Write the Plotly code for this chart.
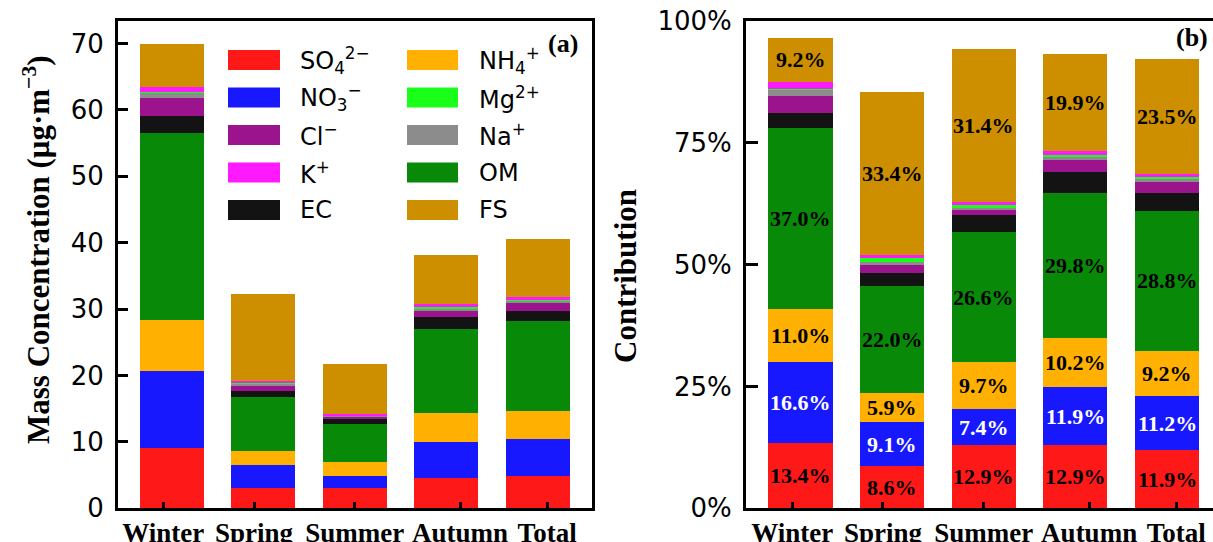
import plotly.graph_objects as go

W, H = 1213, 542

categories = ["Winter", "Spring", "Summer", "Autumn", "Total"]

# stacking order (bottom -> top)
species = ["SO4", "NO3", "NH4", "OM", "EC", "Cl", "Na", "Mg", "K", "FS"]
labels = {
    "SO4": "SO<sub>4</sub><sup>2−</sup>",
    "NO3": "NO<sub>3</sub><sup>−</sup>",
    "NH4": "NH<sub>4</sub><sup>+</sup>",
    "OM": "OM",
    "EC": "EC",
    "Cl": "Cl<sup>−</sup>",
    "Na": "Na<sup>+</sup>",
    "Mg": "Mg<sup>2+</sup>",
    "K": "K<sup>+</sup>",
    "FS": "FS",
}
colors = {
    "SO4": "#ff1818",
    "NO3": "#1818ff",
    "NH4": "#ffb000",
    "OM": "#088a08",
    "EC": "#131313",
    "Cl": "#9b148e",
    "Na": "#8c8c8c",
    "Mg": "#19ff19",
    "K": "#ff19ff",
    "FS": "#cd8f00",
}

# (a) mass concentration, ug/m3
mass_so4 = [9.1, 3.1, 3.0, 4.6, 4.9]
mass_no3 = [11.6, 3.4, 1.8, 5.45, 5.6]
mass_nh4 = [7.7, 2.1, 2.1, 4.25, 4.1]
mass_om = [28.1, 8.1, 5.8, 12.7, 13.6]
mass_ec = [2.55, 1.0, 0.8, 1.8, 1.5]
mass_cl = [2.7, 0.8, 0.3, 1.05, 1.25]
mass_na = [0.9, 0.3, 0.15, 0.3, 0.3]
mass_mg = [0.05, 0.2, 0.1, 0.1, 0.15]
mass_k = [0.8, 0.25, 0.15, 0.45, 0.5]
mass_fs = [6.4, 13.05, 7.6, 7.5, 8.6]

# (b) contribution, %
pct_so4 = [13.4, 8.6, 12.9, 12.9, 11.9]
pct_no3 = [16.6, 9.1, 7.4, 11.9, 11.2]
pct_nh4 = [11.0, 5.9, 9.7, 10.2, 9.2]
pct_om = [37.0, 22.0, 26.6, 29.8, 28.8]
pct_ec = [3.1, 2.7, 3.6, 4.3, 3.6]
pct_cl = [3.5, 1.7, 1.2, 2.4, 2.2]
pct_na = [1.4, 0.5, 0.4, 0.7, 0.7]
pct_mg = [0.1, 0.8, 0.4, 0.2, 0.3]
pct_k = [1.3, 0.7, 0.7, 0.9, 0.8]
pct_fs = [9.2, 33.4, 31.4, 19.9, 23.5]

mass = {"SO4": mass_so4, "NO3": mass_no3, "NH4": mass_nh4, "OM": mass_om, "EC": mass_ec,
        "Cl": mass_cl, "Na": mass_na, "Mg": mass_mg, "K": mass_k, "FS": mass_fs}
pct = {"SO4": pct_so4, "NO3": pct_no3, "NH4": pct_nh4, "OM": pct_om, "EC": pct_ec,
       "Cl": pct_cl, "Na": pct_na, "Mg": pct_mg, "K": pct_k, "FS": pct_fs}
labelled = {"SO4", "NO3", "NH4", "OM", "FS"}

legend_col1 = ["SO4", "NO3", "Cl", "K", "EC"]
legend_col2 = ["NH4", "Mg", "Na", "OM", "FS"]

y_ticks_a = [0, 10, 20, 30, 40, 50, 60, 70]
y_ticks_b = [0, 25, 50, 75, 100]

SERIF = "Liberation Serif"
SANS = "DejaVu Sans"

# bar slots along x (one per category); the reference's tick labels sit slightly off-centre
xpos = list(range(len(categories)))
tick_shift = [-0.09, -0.1, 0.0, 0.15, 0.1]
tick_pos = [p + s for p, s in zip(xpos, tick_shift)]

fig = go.Figure()
for sp in species:
    fig.add_trace(go.Bar(
        x=xpos, y=mass[sp], name=sp, marker=dict(color=colors[sp], line=dict(width=0)),
        width=0.7, xaxis="x", yaxis="y", showlegend=False,
        customdata=categories, hovertemplate="%{customdata}: %{y}<extra>" + sp + "</extra>",
    ))
for sp in species:
    fig.add_trace(go.Bar(
        x=xpos, y=pct[sp], name=sp, marker=dict(color=colors[sp], line=dict(width=0)),
        width=0.7, xaxis="x2", yaxis="y2", showlegend=False,
        customdata=categories, hovertemplate="%{customdata}: %{y}%<extra>" + sp + "</extra>",
    ))


def px(x):
    return x / W


def py(y):
    return 1 - y / H


ydom = [py(508.3), py(21)]
common_axis = dict(showline=True, linecolor="black", linewidth=3, showgrid=False,
                   zeroline=False, ticks="inside", tickcolor="black", automargin=False)
xtickfont = dict(family=SERIF, size=27, weight="bold", color="black")

fig.update_layout(
    width=W, height=H, barmode="stack",
    margin=dict(l=0, r=0, t=0, b=0),
    plot_bgcolor="white", paper_bgcolor="white",
    xaxis=dict(domain=[px(118), px(592)], range=[-0.585, 4.59], anchor="y", mirror=True,
               tickmode="array", tickvals=tick_pos, ticktext=categories,
               ticklen=6, tickwidth=2.5, tickangle=0, ticklabelstandoff=-2,
               tickfont=xtickfont, **common_axis),
    yaxis=dict(domain=ydom, range=[0, 73.4], anchor="x", mirror=True,
               tickmode="array", tickvals=y_ticks_a, ticktext=[str(v) for v in y_ticks_a],
               ticklen=10, tickwidth=2.5, ticklabelstandoff=6,
               tickfont=dict(family=SANS, size=26, color="black"),
               **common_axis),
    xaxis2=dict(domain=[px(746), 1.0], range=[-0.595, 4.502], anchor="y2", mirror=True,
                tickmode="array", tickvals=tick_pos, ticktext=categories,
                ticklen=6, tickwidth=2.5, tickangle=0, ticklabelstandoff=-2,
                tickfont=xtickfont, **common_axis),
    yaxis2=dict(domain=ydom, range=[0, 100], anchor="x2", mirror=False,
                tickmode="array", tickvals=y_ticks_b, ticktext=[f"{v}%" for v in y_ticks_b],
                ticklen=12, tickwidth=2.5, ticklabelstandoff=6,
                tickfont=dict(family=SANS, size=26, color="black"),
                **common_axis),
)

annotations = [
    dict(text="Mass Concentration (μg·m<sup>−3</sup>)", x=px(37), y=py(250), textangle=-90,
         font=dict(family=SERIF, size=31, weight="bold", color="black")),
    dict(text="Contribution", x=px(625), y=py(276), textangle=-90,
         font=dict(family=SERIF, size=31, weight="bold", color="black")),
    dict(text="(a)", x=px(563), y=py(43),
         font=dict(family=SERIF, size=26, weight="bold", color="black")),
    dict(text="(b)", x=px(1192), y=py(38),
         font=dict(family=SERIF, size=26, weight="bold", color="black")),
]
for a in annotations:
    a.update(xref="paper", yref="paper", showarrow=False, xanchor="center", yanchor="middle")

# percentage labels placed at segment centres on the (b) axes
base = [0.0] * len(categories)
for sp in species:
    for i in xpos:
        v = pct[sp][i]
        if sp in labelled:
            annotations.append(dict(
                text=f"{v:.1f}%", x=i, y=base[i] + v / 2, xref="x2", yref="y2",
                showarrow=False, xanchor="center", yanchor="middle",
                font=dict(family=SERIF, size=22, weight="bold",
                          color="white" if sp == "NO3" else "black")))
        base[i] += v

# legend drawn as swatches + labels
shapes = []
row_y = [60, 97.5, 135, 172.5, 210]
for col, (sx0, sx1, tx) in zip([legend_col1, legend_col2], [(228, 280, 298), (407, 458, 477)]):
    for sp, cy in zip(col, row_y):
        shapes.append(dict(type="rect", xref="paper", yref="paper",
                           x0=px(sx0), x1=px(sx1), y0=py(cy + 10), y1=py(cy - 10),
                           fillcolor=colors[sp], line=dict(width=0)))
        annotations.append(dict(text=labels[sp], x=px(tx), y=py(cy), xref="paper", yref="paper",
                                showarrow=False, xanchor="left", yanchor="middle",
                                font=dict(family=SANS, size=24, color="black")))

fig.update_layout(annotations=annotations, shapes=shapes)

fig.write_html(
    "out.html",
    config={"displayModeBar": False},
    post_script="document.body.style.margin='0';document.body.style.overflow='hidden';",
)
